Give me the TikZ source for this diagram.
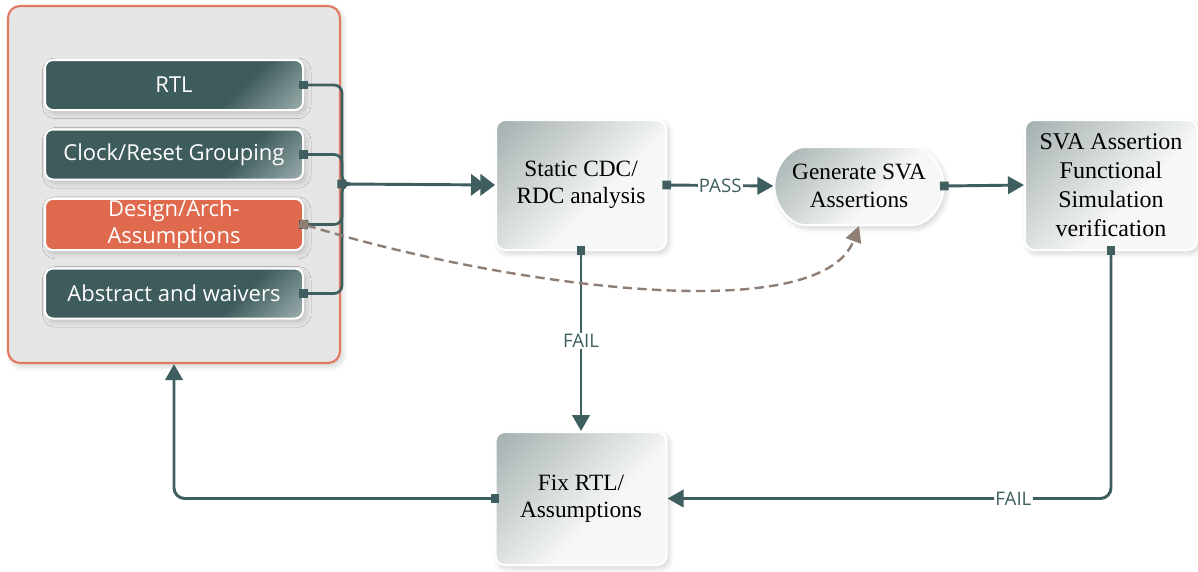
\documentclass[tikz,border=0pt]{standalone}
\usepackage{fontspec}
\setmainfont{Liberation Serif}
\newfontfamily\labfont{Open Sans}
\usetikzlibrary{arrows.meta,shapes.misc,shadows.blur,calc}
\definecolor{tealD}{HTML}{3F5C5D}
\definecolor{tealL}{HTML}{B3C1C1}
\definecolor{lineC}{HTML}{3E5E5F}
\definecolor{orangeB}{HTML}{E06A4D}
\definecolor{orangeE}{HTML}{E27A62}
\definecolor{panel}{HTML}{E6E6E7}
\definecolor{grayD}{HTML}{A2ADAD}
\definecolor{grayL}{HTML}{F6F7F7}
\definecolor{dashC}{HTML}{8F7E74}
\pgfdeclareverticalshading{tealsh}{100bp}{color(0bp)=(tealL); color(10bp)=(tealL); color(34bp)=(tealD); color(100bp)=(tealD)}
\pgfdeclareverticalshading{graysh}{100bp}{color(0bp)=(grayL); color(42bp)=(grayL); color(86bp)=(grayD); color(100bp)=(grayD)}
\begin{document}
\begin{tikzpicture}[x=0.75pt,y=-0.75pt,
  shad/.style={blur shadow={shadow xshift=2pt,shadow yshift=-2.5pt,shadow blur radius=4pt,shadow blur steps=8,shadow opacity=18}},
  panelbox/.style={draw=orangeE, line width=1.6pt, fill=panel, rounded corners=9pt, minimum width=249pt, minimum height=267.75pt, shad},
  basebox/.style={draw=white, line width=1.5pt, rounded corners=6pt, minimum width=193.5pt, minimum height=37.5pt, text=white, font=\labfont\fontsize{16.5}{20}\selectfont, align=center, inner sep=1pt, shad},
  itembox/.style={basebox, shade, shading=tealsh, shading angle=45},
  orangebox/.style={basebox, fill=orangeB},
  procbox/.style={shade, shading=graysh, shading angle=45, draw=white, line width=1.5pt, rounded corners=7pt, font=\fontsize{17.5}{20.5}\selectfont, align=center, inner sep=1pt, shad},
  conn/.style={draw=lineC, line width=2.2pt, {Square[length=6.5pt,width=6.5pt]}-{Triangle[length=12pt,width=13pt]}, shorten <=-3.5pt},
  feed/.style={draw=lineC, line width=2pt, rounded corners=6pt, {Square[length=6.5pt,width=6.5pt]}-, shorten <=-3.5pt},
  lab/.style={fill=white, text=lineC, font=\labfont\fontsize{14}{16}\selectfont, inner sep=1pt}
]
\useasboundingbox (0,0) rectangle (1198,571);
\node[panelbox] (panel) at (174,184.5) {};
\node[itembox] (rtl) at (174,85) {RTL};
\node[itembox] (clk) at (174,154.5) {Clock/Reset Grouping};
\node[orangebox] (des) at (174,224.5) {Design/Arch-\\Assumptions};
\node[itembox] (abs) at (174,293.5) {Abstract and waivers};
\node[procbox, minimum width=127.5pt, minimum height=97.5pt] (cdc) at (581,185) {Static CDC/\\RDC analysis};
\node[procbox, rounded rectangle, minimum width=129pt, minimum height=58.5pt] (gen) at (859,186) {Generate SVA\\Assertions};
\node[procbox, minimum width=129pt, minimum height=97.5pt, font=\fontsize{18}{21.75}\selectfont] (sva) at (1111,185) {SVA Assertion\\Functional\\Simulation\\verification};
\node[procbox, minimum width=128.25pt, minimum height=99.75pt] (fix) at (581,498.5) {Fix RTL/\\Assumptions};
\coordinate (m) at (342,184);
\foreach \n in {rtl,clk,des,abs} \draw[feed] (\n.east) -| (m) -- ++(6,0);
\draw[conn, {Square[length=6.5pt,width=6.5pt]}-{Triangle[length=11pt,width=16pt,sep=-4pt]Triangle[length=11pt,width=16pt]}] (m) -- (cdc.west);
\draw[conn] (cdc.east) -- node[lab]{PASS} (gen.west);
\draw[conn] (gen.east) -- (sva.west);
\draw[conn] (cdc.south) -- node[lab]{FAIL} (fix.north);
\draw[conn, rounded corners=8pt] (sva.south) |- node[lab,pos=0.61]{FAIL} (fix.east);
\draw[conn, rounded corners=8pt] (fix.west) -| (panel.south);
\draw[draw=dashC, line width=1.8pt, dash pattern=on 7pt off 4pt, {Square[length=6.5pt,width=6.5pt]}-{Triangle[length=12pt,width=12pt]}, shorten <=-3.5pt] (des.east) .. controls (500,285) and (820,330) .. (gen.south);
\end{tikzpicture}
\end{document}
